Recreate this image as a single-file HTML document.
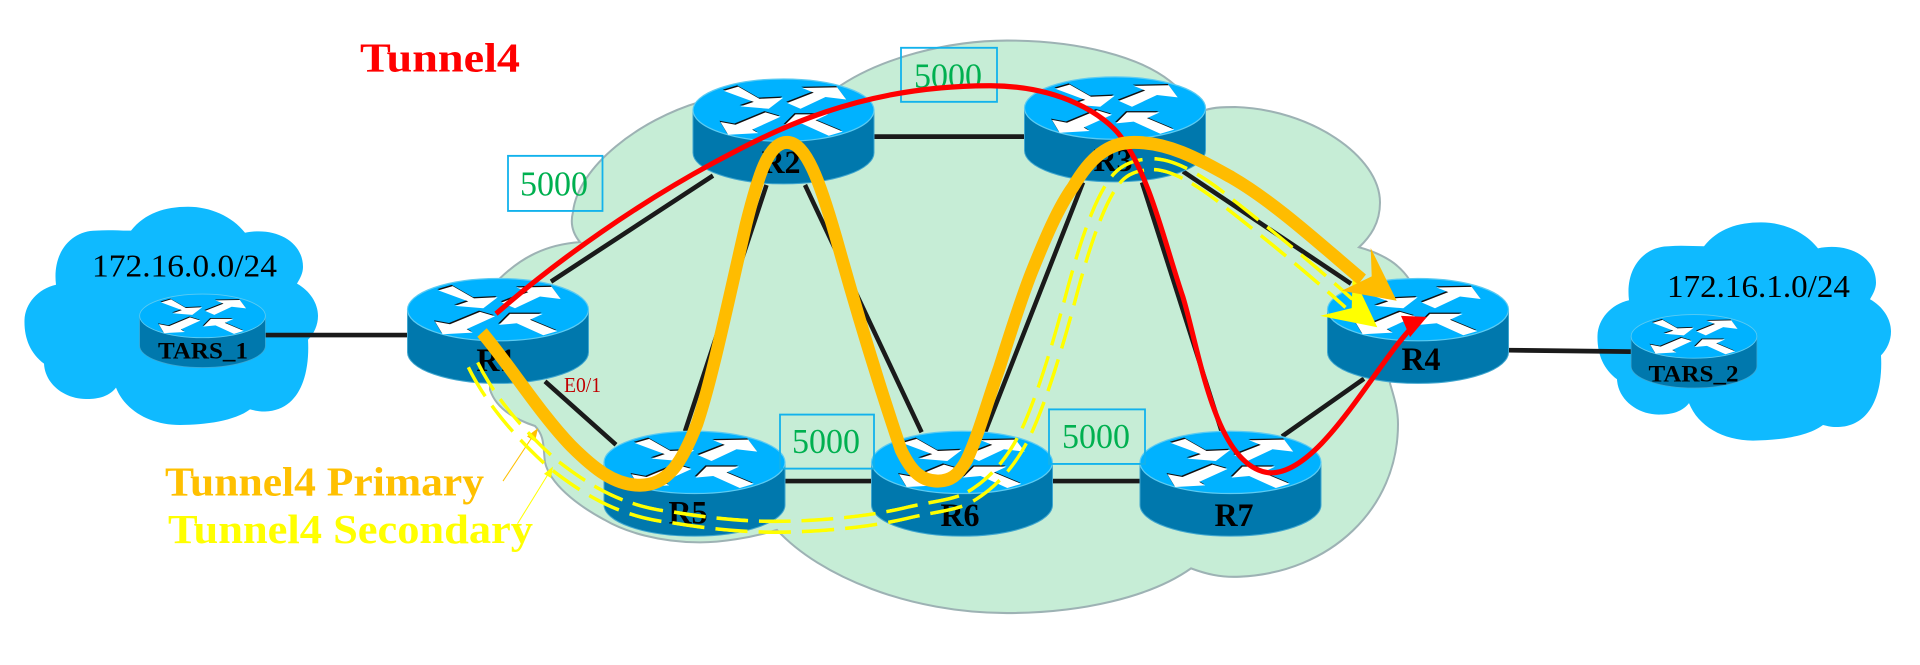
<!DOCTYPE html>
<html><head><meta charset="utf-8"><style>
html,body{margin:0;padding:0;background:#fff;width:1920px;height:665px;overflow:hidden}
svg{display:block}
text{font-family:"Liberation Serif",serif}
.rl{font-size:32px;font-weight:bold;fill:#000;text-anchor:middle}
.g{font-size:34px;fill:#00B050}
.box{fill:none;stroke:#12B2EC;stroke-width:1.8}
.l{stroke:#1a1a1a;stroke-width:4.5;fill:none}
</style></head><body>
<svg width="1920" height="665" viewBox="0 0 1920 640" preserveAspectRatio="none" xmlns="http://www.w3.org/2000/svg">
<defs>
<g id="arrows">
<polygon fill="#111" transform="translate(-1,-1.2)" points="-59.7,-8 -45.3,-12 -24,-.3 -.3,-1.3 -14.7,9.3 -43,7 -29.7,2.7"/>
<polygon fill="#111" transform="translate(-1,-1.2)" points="3.7,3.7 30.3,-6.3 18.7,-10.7 53.7,-11.3 62.7,.3 42,-2 17,9.3"/>
<polygon fill="#111" transform="translate(-1,-1.2)" points="-63,22 -48,24.7 -18,12.7 -3,17 -31.3,29.3 -25.3,32.7 -55.3,34.3"/>
<polygon fill="#111" transform="translate(-1,-1.2)" points="1,25.3 12,14.7 44.7,14.7 32,20.3 59.3,31.3 45.3,35.3 18.7,23.7"/>
<polygon fill="#fff" points="-59.7,-8 -45.3,-12 -24,-.3 -.3,-1.3 -14.7,9.3 -43,7 -29.7,2.7"/>
<polygon fill="#fff" points="3.7,3.7 30.3,-6.3 18.7,-10.7 53.7,-11.3 62.7,.3 42,-2 17,9.3"/>
<polygon fill="#fff" points="-63,22 -48,24.7 -18,12.7 -3,17 -31.3,29.3 -25.3,32.7 -55.3,34.3"/>
<polygon fill="#fff" points="1,25.3 12,14.7 44.7,14.7 32,20.3 59.3,31.3 45.3,35.3 18.7,23.7"/>
</g>
<g id="router">
<path d="M-90.5,0 V41 A90.5,30 0 0 0 90.5,41 V0 Z" fill="#0078AD" stroke="#3FA6CF" stroke-width="1"/>
<ellipse cx="0" cy="0" rx="90.5" ry="30" fill="#00B2FF" stroke="#5CCBF2" stroke-width="1.2"/>
<g transform="translate(0,-10.6)"><use href="#arrows"/></g>
</g>
<path id="bcloud" fill="#0FBAFF" d="M131,222 C145,205 165,199 188,199 C210,199 232,208 245,224 C275,218 303,232 303,257 C303,263 300,268 297,273 C310,280 318,292 318,304 C318,313 314,321 308,327 C310,360 300,395 265,396 C262,396 258,396 250,394 C235,405 205,409 180,409 C150,409 125,395 116,373 C108,383 95,384 86,384 C65,384 45,370 44,350 C30,340 24,325 24.5,308 C25,292 38,278 56,274 C52,242 72,222 96,222 C108,221 120,222 131,222 Z"/>
<path id="yp" d="M473,351 C490,385 520,418 551,445 C590,475 625,493 673,498 C710,504 745,507 775,507 C820,507 870,502 905,494 C930,488 950,487 966.5,480 C995,465 1015,440 1028,412 C1045,375 1060,325 1073,277.5 C1085,235 1100,190 1117.5,171 C1125,163 1135,159 1150,158 C1170,157 1195,170 1224,192 C1260,219 1310,258 1349,292"/>
<mask id="ym" maskUnits="userSpaceOnUse" x="0" y="0" width="1920" height="665">
<use href="#yp" fill="none" stroke="#fff" stroke-width="14"/>
<use href="#yp" fill="none" stroke="#000" stroke-width="7"/>
</mask>
</defs>

<use href="#bcloud"/>
<use href="#bcloud" transform="translate(1573,15)"/>

<path fill="#C6EDD6" stroke="#9DB2B4" stroke-width="2" d="M490,278 C520,245 550,235 580,233 C573,225 570,215 573,204 C578,160 640,115 700,98 C740,90 790,95 835,86 C880,55 950,39 1007,39 C1080,39 1140,55 1170,78 L1205,106 C1215,103 1225,103 1235,103 C1310,105 1380,150 1380,195 C1380,215 1370,228 1359,238 C1385,245 1400,255 1410,270 L1390,369 C1395,385 1398,395 1398,408 C1398,490 1330,551 1240,555 C1220,556 1205,552 1191,547 C1150,575 1080,590 1007,590 C910,590 820,555 777,510 C750,518 720,522 700,522 C660,522 625,512 604,500 C575,485 550,465 545,445 C543,430 545,420 535,410 C510,402 495,390 490,375 Z"/>

<g class="l">
<line x1="265" y1="322.5" x2="407" y2="322.5"/>
<line x1="551" y1="271" x2="713" y2="169"/>
<line x1="545" y1="367" x2="616" y2="428"/>
<line x1="766.5" y1="178" x2="685" y2="415"/>
<line x1="805" y1="178" x2="921.6" y2="416"/>
<line x1="874" y1="131.5" x2="1024" y2="131.5"/>
<line x1="1083" y1="175.5" x2="985" y2="416"/>
<line x1="1142" y1="175.5" x2="1221.6" y2="415"/>
<line x1="1183" y1="165" x2="1351" y2="273"/>
<line x1="1364" y1="364.5" x2="1282" y2="420"/>
<line x1="785" y1="463" x2="872" y2="463"/>
<line x1="1052" y1="463" x2="1140" y2="463"/>
<line x1="1508" y1="337" x2="1631" y2="338.4"/>
</g>

<use href="#router" x="498" y="298"/>
<use href="#router" x="783.5" y="106"/>
<use href="#router" x="1115" y="104"/>
<use href="#router" x="694.5" y="445"/>
<use href="#router" x="962" y="445"/>
<use href="#router" x="1230.5" y="445"/>
<use href="#router" x="1418" y="298"/>
<g transform="translate(202.5,304) scale(.695,.7)"><use href="#router"/></g>
<g transform="translate(1694,323.7) scale(.695,.7)"><use href="#router"/></g>

<rect class="box" x="508" y="150" width="94.5" height="53"/>
<rect class="box" x="901" y="46" width="96" height="52"/>
<rect class="box" x="780" y="399" width="94" height="52"/>
<rect class="box" x="1049" y="394" width="96" height="52.5"/>

<text class="g" x="520" y="188">5000</text>
<text class="g" x="914" y="84">5000</text>
<text class="g" x="792" y="436">5000</text>
<text class="g" x="1062" y="431">5000</text>

<text class="rl" x="496" y="357">R1</text>
<text class="rl" x="781" y="166.5">R2</text>
<text class="rl" x="1113" y="164.5">R3</text>
<text class="rl" x="688" y="504">R5</text>
<text class="rl" x="960" y="506">R6</text>
<text class="rl" x="1234" y="506">R7</text>
<text class="rl" x="1421" y="356">R4</text>
<text x="158" y="345" font-size="22" font-weight="bold" textLength="90" lengthAdjust="spacingAndGlyphs">TARS_1</text>
<text x="1648.5" y="367" font-size="22" font-weight="bold" textLength="90" lengthAdjust="spacingAndGlyphs">TARS_2</text>
<text x="92" y="266" font-size="31" textLength="185" lengthAdjust="spacingAndGlyphs">172.16.0.0/24</text>
<text x="1667" y="286" font-size="31" textLength="183" lengthAdjust="spacingAndGlyphs">172.16.1.0/24</text>
<text x="564" y="377.5" font-size="20" fill="#C00000" textLength="37" lengthAdjust="spacingAndGlyphs">E0/1</text>
<text x="360" y="69" font-size="40" font-weight="bold" fill="#FF0000" textLength="160" lengthAdjust="spacingAndGlyphs">Tunnel4</text>
<text x="165" y="477" font-size="40" font-weight="bold" fill="#FFC000" textLength="319" lengthAdjust="spacingAndGlyphs">Tunnel4 Primary</text>
<text x="168" y="522.5" font-size="40" font-weight="bold" fill="#FFFF00" textLength="365" lengthAdjust="spacingAndGlyphs">Tunnel4 Secondary</text>

<line x1="503" y1="463" x2="534" y2="418" stroke="#FFC000" stroke-width="1"/>
<polygon points="538,412 527,420 535,425" fill="#FFC000"/>
<line x1="517.5" y1="504" x2="549" y2="455" stroke="#FFFF00" stroke-width="1"/>
<polygon points="553,449 544,456 551,460" fill="#FFFF00"/>

<!-- secondary -->
<g mask="url(#ym)"><use href="#yp" fill="none" stroke="#FFFF00" stroke-width="14" stroke-dasharray="32 11"/></g>
<polygon points="1377.3,315 1352.7,264.7 1351.7,296.6 1320,304" fill="#FFFF00"/>

<!-- tunnel4 red -->
<path d="M496,302 C560,248 640,195 713,157 C775,125 860,82 991,82.5 C1060,83 1105,110 1122,133 C1150,170 1165,235 1183,286 C1200,340 1215,449 1269,455 C1320,458 1375,350 1415,312" fill="none" stroke="#FF0000" stroke-width="5"/>
<polygon points="1427,305 1401,304 1410,324.5" fill="#FF0000"/>

<!-- primary -->
<path d="M482,320 C510,352 540,398 571,429 C595,452 615,467 640,467 C668,467 682,445 697,408 C712,365 727,295 746,216 C758,170 768,137 787,137 C806,137 820,175 836,228.6 C848,270 870,345 901,433 C912,455 922,463 938,463 C950,463 958,458 966.5,443 C978,420 988,385 999,355 C1010,322 1020,290 1032,261 C1045,230 1058,200 1073,180 C1090,152 1108,137 1134,137 C1170,137 1200,154 1232,171 C1275,195 1320,235 1362,269" fill="none" stroke="#FFBC00" stroke-width="12.5"/>
<polygon points="1396.7,289.4 1370.7,238.7 1371.7,266 1341.7,279.8" fill="#FFBC00"/>
</svg>
</body></html>
